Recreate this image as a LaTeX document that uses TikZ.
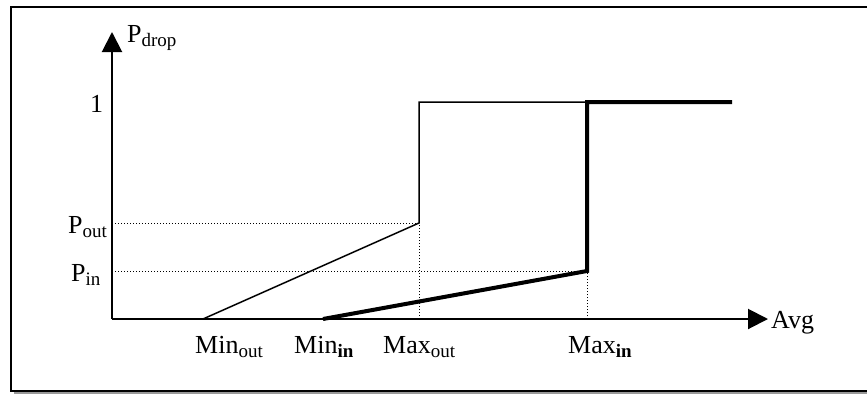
\documentclass[tikz,border=0pt]{standalone}
\usepackage{fontspec}
\setmainfont{Liberation Serif}
\usetikzlibrary{arrows.meta}
\newcommand\sbs[1]{\raisebox{-0.16em}{\fontsize{19}{20}\selectfont #1}}
\tikzset{
  lbl/.style={inner sep=0pt, anchor=base west, font=\fontsize{26}{30}\selectfont},
  axis/.style={line width=2pt, -{Triangle[length=20pt,width=20pt]}},
  thinc/.style={line width=1.5pt},
  thickc/.style={line width=4pt},
  guide/.style={line width=1pt, dotted},
}
\begin{document}
\begin{tikzpicture}[x=1pt,y=-1pt]
\useasboundingbox (0,0) rectangle (867,394);
% frame with shadow
\fill[gray!80] (14,10) rectangle (880,393.5);
\filldraw[fill=white, draw=black, line width=2pt] (11,7) rectangle (877,391);
% coordinates
\coordinate (O) at (112,319);
\coordinate (ytip) at (112,32);
\coordinate (xtip) at (768,319);
\coordinate (minout) at (203,319);
\coordinate (minin) at (323,319);
\coordinate (maxout) at (419,319);
\coordinate (maxin) at (587,319);
\coordinate (pout) at (112,223);
\coordinate (pin) at (112,271);
\coordinate (cout) at (419,223);
\coordinate (cin) at (587,271);
\coordinate (tout) at (419,102);
\coordinate (tin) at (587,102);
\coordinate (tend) at (732,102);
% guides
\draw[guide] (pout) -- (cout);
\draw[guide] (pin) -- (cin);
\draw[guide] (maxout) -- (cout);
\draw[guide] (maxin) -- (cin);
% axes
\draw[axis] (O) -- (ytip);
\draw[axis] (O) -- (xtip);
% curves
\draw[thinc, line join=miter] (minout) -- (cout) -- (tout) -- (tin);
\draw[thickc, line join=miter] (minin) -- (cin) -- (tin) -- (tend);
% labels
\node[lbl] (lpdrop) at (127,42) {P\sbs{drop}};
\node[lbl] (lone) at (90,112) {1};
\node[lbl] (lpout) at (68,233) {P\sbs{out}};
\node[lbl] (lpin) at (71,281) {P\sbs{in}};
\node[lbl] (lminout) at (195,353) {Min\sbs{out}};
\node[lbl] (lminin) at (294,353) {Min\sbs{\bfseries in}};
\node[lbl] (lmaxout) at (383,353) {Max\sbs{out}};
\node[lbl] (lmaxin) at (568,353) {Max\sbs{\bfseries in}};
\node[lbl] (lavg) at (771,328) {Avg};
\end{tikzpicture}
\end{document}
